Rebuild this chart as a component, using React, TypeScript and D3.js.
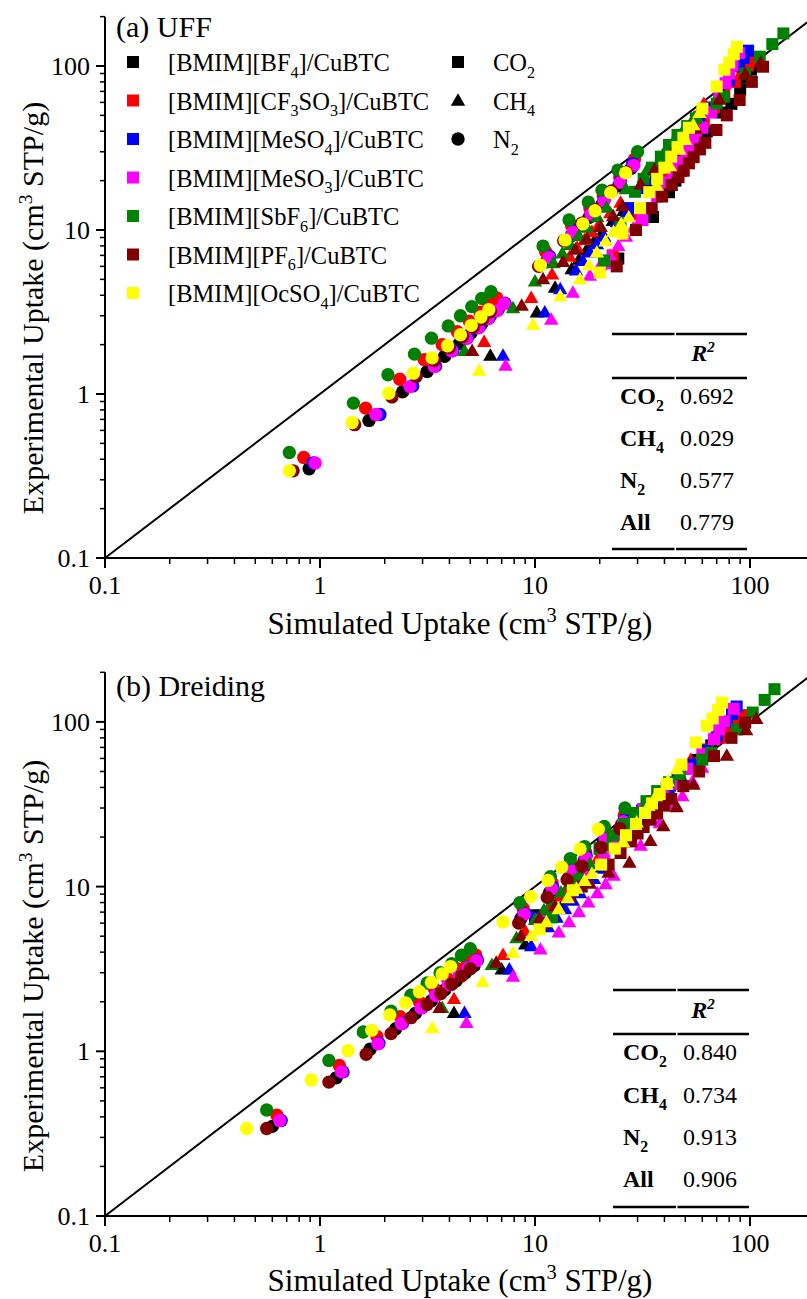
import React from "react";
import * as d3 from "d3";

// ---------- data ----------
// Ionic liquid / CuBTC composites, legend order
const IL_LABELS: { t: string; s?: "sub" | "sup" }[][] = [
  [{ t: "[BMIM][BF" }, { t: "4", s: "sub" }, { t: "]/CuBTC" }],
  [{ t: "[BMIM][CF" }, { t: "3", s: "sub" }, { t: "SO" }, { t: "3", s: "sub" }, { t: "]/CuBTC" }],
  [{ t: "[BMIM][MeSO" }, { t: "4", s: "sub" }, { t: "]/CuBTC" }],
  [{ t: "[BMIM][MeSO" }, { t: "3", s: "sub" }, { t: "]/CuBTC" }],
  [{ t: "[BMIM][SbF" }, { t: "6", s: "sub" }, { t: "]/CuBTC" }],
  [{ t: "[BMIM][PF" }, { t: "6", s: "sub" }, { t: "]/CuBTC" }],
  [{ t: "[BMIM][OcSO" }, { t: "4", s: "sub" }, { t: "]/CuBTC" }],
];
const IL_COLORS = ["#000000", "#ff0000", "#0000ff", "#ff00ff", "#008000", "#800000", "#ffff00"];

const GAS_LABELS: { t: string; s?: "sub" | "sup" }[][] = [
  [{ t: "CO" }, { t: "2", s: "sub" }],
  [{ t: "CH" }, { t: "4", s: "sub" }],
  [{ t: "N" }, { t: "2", s: "sub" }],
];

// Experimental uptakes (cm3 STP/g), one list per composite (legend order)
const CO2_EXP = [
  [6.7, 12.0, 17, 20, 23, 26, 29.5, 33, 36.5, 40, 52, 58.8, 72, 85, 95, 105],
  [7, 12.5, 18, 22, 26, 30, 34, 38, 42, 46, 56, 68, 80, 92, 101, 110],
  [6.5, 13.6, 18, 21.5, 25, 29, 33, 37, 41, 45, 55, 67, 82, 100, 112, 124],
  [6.27, 11.5, 16, 19.5, 23, 26, 29.5, 33, 37.5, 42, 52, 64, 78.6, 90, 101, 120],
  [6.5, 11, 17.1, 20.5, 24, 28, 33, 38, 43, 48, 59, 65, 90, 114, 136, 158],
  [6, 10, 13.6, 16, 18.8, 21, 23, 25.5, 27.8, 31, 34, 40.7, 50, 62, 80, 99],
  [5.5, 9.5, 13.6, 17, 20.5, 24, 28, 32, 36.5, 42, 55, 75, 95, 105, 118, 131],
];
// Simulated uptakes, UFF
const CO2_UFF = [
  [24.4, 35.4, 42, 45, 48, 51, 54, 57, 60, 63, 74, 82, 90, 96, 101, 106],
  [23, 30, 36, 40, 44, 48, 51, 54, 58, 61, 68, 76, 85, 92, 98, 104],
  [21, 27.3, 33, 36.5, 40, 43.5, 47, 51, 54.5, 58, 65, 72, 80, 89, 93.5, 98],
  [22.3, 31.6, 37, 40.5, 44, 46.5, 49, 52, 56, 60, 66, 72, 77, 80, 83, 89],
  [21, 25, 29.2, 32, 35, 38.5, 42, 46, 51, 56, 70, 75.5, 95, 111, 127, 143],
  [24, 29.5, 34.9, 39, 43.3, 46.5, 49.2, 52, 54.7, 58.5, 62, 69.8, 78, 89.5, 102, 115],
  [20, 25.5, 30.8, 34, 37, 40, 43, 46, 49, 52, 60, 70, 76, 80, 84, 87],
];
// Simulated uptakes, Dreiding
const CO2_DRE = [
  [10, 15, 20, 23, 26, 29, 32, 35, 38, 41, 50, 56, 66, 75, 83, 90],
  [12, 17, 22.5, 26, 30, 34, 37, 40, 43.5, 47, 55, 63, 72, 80, 86, 92],
  [10, 17, 22, 25, 28, 31.5, 35, 39, 42.5, 46, 54, 62, 70, 78, 82.5, 86.7],
  [10.5, 16.5, 21, 24, 27, 29.5, 32, 35, 39.5, 44, 51, 60, 68, 72, 76, 84],
  [12, 16, 20, 23, 26, 29, 33, 37, 42, 47, 60, 66, 87, 103, 117, 130],
  [11, 16.5, 22, 25, 28, 30, 32, 34.5, 37, 40, 43, 49, 58, 68, 82, 95],
  [10.5, 15, 20.3, 23.5, 26.5, 29.5, 32.5, 35, 38, 41, 48, 56, 63, 67, 71, 74],
];

const CH4_EXP = [
  [1.69, 3.1, 4.4, 5.7, 6.5, 7.4, 8.3, 9.2, 11.2, 12.9, 18.8, 25.5, 33, 38, 46, 56],
  [2.05, 3.8, 5.3, 6.8, 7.7, 8.6, 9.6, 10.6, 12.5, 14.5, 20.5, 27.5, 35, 40, 48, 58],
  [1.69, 3.1, 4.3, 5.6, 6.4, 7.2, 8.1, 9.0, 11.0, 12.7, 18.5, 25, 32, 37, 45, 55],
  [1.47, 2.8, 4.1, 5.2, 6.0, 6.9, 7.9, 9.0, 10.2, 11.5, 17.5, 24, 31, 35, 43, 52],
  [1.81, 3.3, 4.8, 6.2, 7.1, 8.0, 9.1, 10.2, 11.8, 13.5, 17.5, 22.6, 30, 34, 42, 52],
  [1.81, 3.41, 4.95, 6.3, 7.5, 8.7, 10.3, 12.0, 13.8, 18.7, 23, 30, 41, 61.5, 88, 103],
  [1.37, 2.6, 3.9, 4.95, 6.0, 7.2, 8.4, 9.6, 10.7, 11.8, 18.4, 24.2, 30.5, 35, 43, 51],
];
const CH4_UFF = [
  [6.2, 10.2, 12.4, 14.8, 16.0, 17.3, 18.7, 20.2, 23.0, 25.8, 33, 40, 47, 51, 56, 62],
  [5.8, 9.6, 12.0, 14.5, 15.7, 17.0, 18.4, 19.8, 22.4, 25.0, 32, 39, 46, 50, 55, 61],
  [7.1, 11.1, 13.1, 15.5, 16.7, 18.0, 19.4, 21.0, 24.0, 26.8, 34, 41, 48, 52, 58, 63],
  [7.3, 11.9, 15.0, 18.0, 20.1, 22.3, 24.4, 26.5, 28.7, 31, 38, 45, 51, 54, 59, 64],
  [4.7, 7.9, 10.0, 12.2, 13.4, 14.6, 16.0, 17.5, 19.5, 21.5, 26.5, 33, 40.3, 44, 50, 58],
  [5.1, 8.67, 10.9, 13.5, 15.4, 17.4, 20.2, 23.1, 25.5, 31, 36, 44, 56, 72, 95, 112],
  [5.5, 9.8, 13.1, 16.2, 17.8, 19.4, 21.3, 23.2, 25.2, 27.3, 36.8, 42.4, 47, 50, 54.5, 58.2],
];
const CH4_DRE = [
  [4.2, 7.0, 9.0, 10.9, 12.0, 13.2, 14.4, 15.6, 18.2, 20.5, 26.5, 32.5, 38.5, 42, 47.5, 53],
  [4.2, 7.1, 9.0, 10.9, 11.9, 12.9, 14.0, 15.2, 17.3, 19.5, 25.5, 31.5, 37.5, 41, 47, 53],
  [4.7, 7.6, 9.6, 11.5, 12.6, 13.8, 15.0, 16.2, 18.8, 21, 27, 33, 39, 42, 48, 54],
  [4.8, 7.9, 10.6, 12.9, 14.4, 16.0, 17.7, 19.5, 21.3, 23.2, 31, 38, 45, 48.5, 54, 60],
  [3.7, 6.3, 8.2, 10.0, 11.0, 12.0, 13.2, 14.5, 16.2, 18.0, 22.0, 27, 32.5, 35.5, 41, 47],
  [3.6, 6.6, 8.6, 10.5, 12.4, 14.5, 18, 22, 27.5, 34.4, 39.5, 45.6, 54.6, 78, 96, 107],
  [3.33, 5.7, 7.9, 9.6, 11.3, 12.9, 14.2, 15.6, 17.0, 18.4, 25.7, 29.7, 33.7, 36.5, 41.5, 45.6],
];

const N2_EXP = [
  [0.35, 0.69, 1.03, 1.37, 1.7, 2.03, 2.36, 2.68, 3.0, 3.3, 6.4, 9.2, 11.9, 14.3, 18.6, 23.8],
  [0.41, 0.82, 1.23, 1.62, 2.0, 2.4, 2.78, 3.15, 3.5, 3.85, 7.4, 10.6, 13.6, 16.2, 21.0, 27.0],
  [0.38, 0.75, 1.12, 1.48, 1.84, 2.2, 2.55, 2.9, 3.25, 3.58, 6.9, 9.9, 12.8, 15.4, 20.0, 25.5],
  [0.38, 0.75, 1.11, 1.47, 1.83, 2.18, 2.53, 2.88, 3.22, 3.55, 6.8, 9.7, 12.5, 15.0, 19.5, 24.8],
  [0.44, 0.88, 1.31, 1.75, 2.19, 2.6, 3.0, 3.41, 3.83, 4.2, 7.98, 11.5, 14.8, 17.5, 23.2, 30.0],
  [0.34, 0.65, 0.96, 1.28, 1.6, 1.92, 2.24, 2.55, 2.86, 3.17, 6.0, 8.6, 11.0, 13.3, 17.3, 22.5],
  [0.34, 0.67, 1.01, 1.34, 1.66, 1.97, 2.3, 2.62, 2.95, 3.27, 6.1, 8.7, 10.9, 13.1, 16.9, 22.3],
];
const N2_UFF = [
  [0.89, 1.69, 2.42, 3.15, 3.8, 4.45, 5.05, 5.65, 6.2, 6.75, 11.3, 14.7, 17.8, 20.5, 24.5, 28.0],
  [0.84, 1.63, 2.35, 3.05, 3.7, 4.35, 4.95, 5.55, 6.1, 6.65, 11.2, 14.8, 18.0, 20.8, 24.8, 29.0],
  [0.93, 1.9, 2.7, 3.45, 4.15, 4.85, 5.5, 6.1, 6.7, 7.25, 11.7, 15.2, 18.3, 21.0, 25.0, 28.5],
  [0.95, 1.82, 2.62, 3.4, 4.1, 4.8, 5.45, 6.05, 6.65, 7.2, 11.6, 15.0, 18.2, 20.9, 24.9, 28.8],
  [0.72, 1.43, 2.07, 2.75, 3.3, 3.95, 4.5, 5.08, 5.65, 6.24, 10.9, 14.4, 17.7, 20.5, 24.3, 30.0],
  [0.75, 1.45, 2.16, 2.8, 3.4, 4.0, 4.6, 5.15, 5.7, 6.2, 10.4, 13.6, 16.5, 19.0, 22.7, 26.5],
  [0.72, 1.41, 2.09, 2.72, 3.32, 3.92, 4.5, 5.05, 5.6, 6.1, 10.6, 13.8, 16.7, 19.0, 22.5, 26.4],
];
const N2_DRE = [
  [0.6, 1.19, 1.71, 2.25, 2.78, 3.3, 3.8, 4.3, 4.75, 5.2, 8.6, 11.7, 14.5, 16.9, 20.8, 25.3],
  [0.63, 1.23, 1.84, 2.36, 2.9, 3.4, 3.9, 4.4, 4.85, 5.3, 8.8, 12.0, 14.8, 17.2, 21.2, 26.0],
  [0.66, 1.28, 1.88, 2.42, 2.98, 3.5, 4.0, 4.5, 4.95, 5.4, 8.9, 12.1, 14.9, 17.3, 21.4, 26.0],
  [0.65, 1.26, 1.86, 2.39, 2.95, 3.45, 3.95, 4.45, 4.9, 5.35, 8.9, 12.0, 14.8, 17.2, 21.2, 25.8],
  [0.565, 1.1, 1.59, 2.14, 2.65, 3.15, 3.62, 4.1, 4.55, 5.0, 8.5, 11.8, 14.6, 17.0, 21.0, 26.2],
  [0.565, 1.1, 1.64, 2.14, 2.65, 3.15, 3.65, 4.1, 4.55, 5.0, 8.4, 11.4, 14.1, 16.5, 20.3, 24.8],
  [0.456, 0.91, 1.35, 1.74, 2.11, 2.5, 2.9, 3.3, 3.7, 4.05, 7.1, 9.55, 11.5, 13.3, 16.2, 19.7],
];

const R2_ROWS: { t: string; s?: "sub" | "sup" }[][] = [
  [{ t: "CO" }, { t: "2", s: "sub" }],
  [{ t: "CH" }, { t: "4", s: "sub" }],
  [{ t: "N" }, { t: "2", s: "sub" }],
  [{ t: "All" }],
];
const R2_UFF = ["0.692", "0.029", "0.577", "0.779"];
const R2_DRE = ["0.840", "0.734", "0.913", "0.906"];

const MAJOR_TICKS = [0.1, 1, 10, 100];
const TICK_LABELS = ["0.1", "1", "10", "100"];

// ---------- drawing ----------
const FONT = "'Liberation Serif', 'Times New Roman', serif";
const W = 807;
const H = 1299;

type Part = { t: string; s?: "sub" | "sup" };
function Rich({ parts, fs, ...rest }: { parts: Part[]; fs: number; [k: string]: any }) {
  let cur = 0;
  const spans = parts.map((p, i) => {
    const target = p.s === "sub" ? fs * 0.28 : p.s === "sup" ? -fs * 0.38 : 0;
    const dy = target - cur;
    cur = target;
    return (
      <tspan key={i} dy={dy} fontSize={p.s ? fs * 0.66 : fs}>
        {p.t}
      </tspan>
    );
  });
  return (
    <text fontSize={fs} fontFamily={FONT} {...rest}>
      {spans}
    </text>
  );
}

const symSquare = d3.symbol().type(d3.symbolSquare).size(144)()!;
const symTri = d3.symbol().type(d3.symbolTriangle).size(90)()!;
const symCircle = d3.symbol().type(d3.symbolCircle).size(140)()!;
const GAS_SYMBOLS = [symSquare, symTri, symCircle];

interface PanelCfg {
  label: string;
  labelY: number;
  bottom: number;
  dec: number;
  sims: number[][][];
  r2: string[];
  table: { x1: number; x2: number; top: number; lx: number; vx: number; rowY: number[]; mid: number; bot: number; r2y: number };
  legend: boolean;
  tickLabelY: number;
  titleY: number;
  yTitleY: number;
}

const X_LEFT = 105;
const X_DEC = 215;
const xScale = d3.scaleLog().domain([0.1, 200]).range([X_LEFT, X_LEFT + X_DEC * Math.log10(2000)]);

const PANELS: PanelCfg[] = [
  {
    label: "(a) UFF",
    labelY: 37,
    bottom: 558,
    dec: 164,
    sims: [CO2_UFF, CH4_UFF, N2_UFF],
    r2: R2_UFF,
    table: { x1: 612, x2: 747, top: 334, mid: 378, bot: 549, r2y: 361, lx: 620, vx: 680, rowY: [404, 446, 488, 530] },
    legend: true,
    tickLabelY: 594,
    titleY: 634,
    yTitleY: 308,
  },
  {
    label: "(b) Dreiding",
    labelY: 696,
    bottom: 1216,
    dec: 164.7,
    sims: [CO2_DRE, CH4_DRE, N2_DRE],
    r2: R2_DRE,
    table: { x1: 613, x2: 749, top: 990, mid: 1034, bot: 1207, r2y: 1018, lx: 623, vx: 683, rowY: [1060, 1103, 1145, 1187] },
    legend: false,
    tickLabelY: 1252,
    titleY: 1291,
    yTitleY: 966,
  },
];

const EXPS = [CO2_EXP, CH4_EXP, N2_EXP];

function minorTicks(): number[] {
  const out: number[] = [];
  for (const d of MAJOR_TICKS) for (let k = 2; k <= 9; k++) if (d * k <= 200) out.push(d * k);
  return out;
}

function Panel({ cfg }: { cfg: PanelCfg }) {
  const y = d3.scaleLog().domain([0.1, 200]).range([cfg.bottom, cfg.bottom - cfg.dec * Math.log10(2000)]);
  const x = xScale;
  const minors = minorTicks();
  const line = d3.line<number>().x((v) => x(v)).y((v) => y(v));
  const marks: any[] = [];
  for (let i = 0; i < IL_COLORS.length; i++) {
    for (let g = 0; g < 3; g++) {
      const ex = EXPS[g][i];
      const sm = cfg.sims[g][i];
      ex.forEach((ev, k) => {
        marks.push(
          <path key={`${i}-${g}-${k}`} d={GAS_SYMBOLS[g]} fill={IL_COLORS[i]} transform={`translate(${x(sm[k])},${y(ev)})`} />
        );
      });
    }
  }
  const t = cfg.table;
  const midX = (t.x1 + t.x2) / 2 - 5;
  return (
    <g>
      <path d={line([0.1, 200]) || ""} stroke="#000" strokeWidth={2} fill="none" />
      {marks}
      <line x1={X_LEFT} x2={X_LEFT} y1={y(200)} y2={cfg.bottom} stroke="#000" strokeWidth={2} />
      <line x1={X_LEFT} x2={W + 10} y1={cfg.bottom} y2={cfg.bottom} stroke="#000" strokeWidth={2} />
      {MAJOR_TICKS.map((v, i) => (
        <g key={`my${i}`}>
          <line x1={X_LEFT - 9} x2={X_LEFT} y1={y(v)} y2={y(v)} stroke="#000" strokeWidth={2} />
          <text x={X_LEFT - 15} y={y(v) + 9} textAnchor="end" fontSize={26} fontFamily={FONT}>
            {TICK_LABELS[i]}
          </text>
          <line x1={x(v)} x2={x(v)} y1={cfg.bottom} y2={cfg.bottom + 10} stroke="#000" strokeWidth={2} />
          <text x={x(v)} y={cfg.tickLabelY} textAnchor="middle" fontSize={26} fontFamily={FONT}>
            {TICK_LABELS[i]}
          </text>
        </g>
      ))}
      {minors.map((v, i) => (
        <g key={`mn${i}`}>
          <line x1={X_LEFT - 5} x2={X_LEFT} y1={y(v)} y2={y(v)} stroke="#000" strokeWidth={1.5} />
          <line x1={x(v)} x2={x(v)} y1={cfg.bottom} y2={cfg.bottom + 6} stroke="#000" strokeWidth={1.5} />
        </g>
      ))}
      <Rich
        parts={[{ t: "Simulated Uptake (cm" }, { t: "3", s: "sup" }, { t: " STP/g)" }]}
        fs={31}
        x={460}
        y={cfg.titleY}
        textAnchor="middle"
      />
      <Rich
        parts={[{ t: "Experimental Uptake (cm" }, { t: "3", s: "sup" }, { t: " STP/g)" }]}
        fs={30}
        x={0}
        y={0}
        textAnchor="middle"
        transform={`translate(43,${cfg.yTitleY}) rotate(-90)`}
      />
      <text x={116} y={cfg.labelY} fontSize={30} fontFamily={FONT}>
        {cfg.label}
      </text>
      <g stroke="#000" strokeWidth={2.5}>
        {[t.top, t.mid, t.bot].map((yy, i) => (
          <g key={i}>
            <line x1={t.x1} x2={midX} y1={yy} y2={yy} />
            <line x1={midX + 1.5} x2={t.x2} y1={yy} y2={yy} />
          </g>
        ))}
      </g>
      <text x={703} y={t.r2y} textAnchor="middle" fontSize={24} fontFamily={FONT} fontWeight="bold" fontStyle="italic">
        R<tspan dy={-9} fontSize={15}>2</tspan>
      </text>
      {R2_ROWS.map((p, i) => (
        <g key={`r${i}`}>
          <Rich parts={p} fs={24} x={t.lx} y={t.rowY[i]} fontWeight="bold" />
          <text x={t.vx} y={t.rowY[i]} fontSize={24} fontFamily={FONT}>
            {cfg.r2[i]}
          </text>
        </g>
      ))}
      {cfg.legend && (
        <g>
          {IL_LABELS.map((p, i) => {
            const ly = 62 + i * 38.5;
            return (
              <g key={`l${i}`}>
                <path d={symSquare} fill={IL_COLORS[i]} transform={`translate(133,${ly})`} />
                <Rich parts={p} fs={24.5} x={168} y={ly + 9} />
              </g>
            );
          })}
          {GAS_LABELS.map((p, g) => {
            const ly = 62 + g * 38.5;
            return (
              <g key={`g${g}`}>
                <path d={GAS_SYMBOLS[g]} fill="#000" transform={`translate(458,${ly + (g === 1 ? 1 : 0)})`} />
                <Rich parts={p} fs={24.5} x={493} y={ly + 9} />
              </g>
            );
          })}
        </g>
      )}
    </g>
  );
}

export default function App() {
  return (
    <svg
      width={W}
      height={H}
      viewBox={`0 0 ${W} ${H}`}
      style={{ position: "absolute", left: 0, top: 0, background: "#fff" }}
    >
      <rect x={0} y={0} width={W} height={H} fill="#fff" />
      {PANELS.map((p, i) => (
        <Panel key={i} cfg={p} />
      ))}
    </svg>
  );
}
